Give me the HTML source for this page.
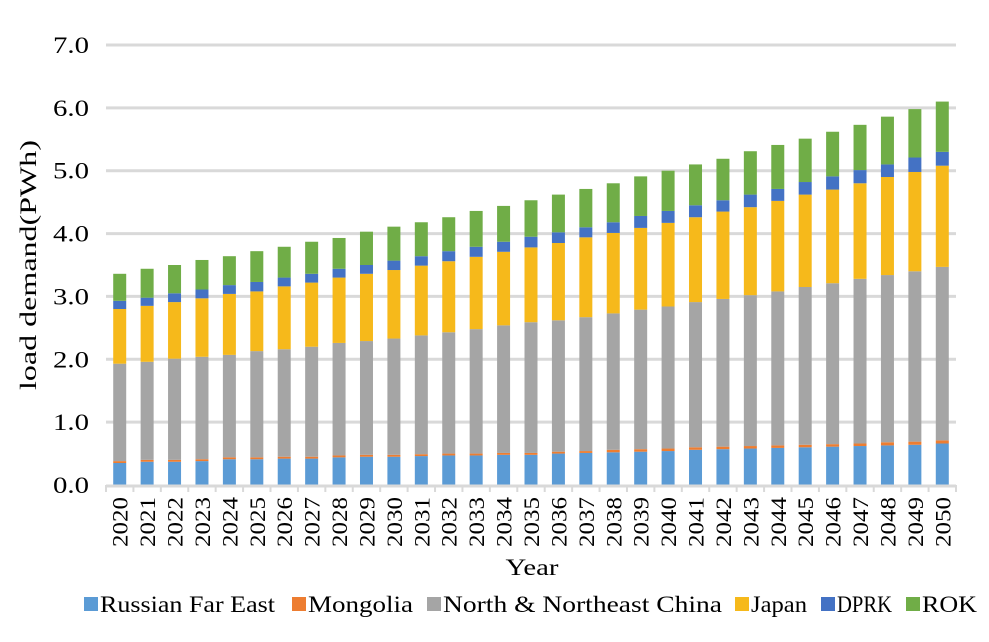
<!DOCTYPE html>
<html><head><meta charset="utf-8"><style>
body{margin:0;background:#fff}
svg text{font-family:"Liberation Serif",serif;fill:#000}
</style></head><body>
<svg id="chart" width="989" height="637" xmlns="http://www.w3.org/2000/svg">
<g id="grid"></g>
<g id="bars"></g>
<g id="axes"></g>
<text x="36" y="265" font-size="23" text-anchor="middle" textLength="250" lengthAdjust="spacingAndGlyphs" transform="rotate(-90 36 265)">load demand(PWh)</text>
<text x="532" y="575" font-size="23" text-anchor="middle" textLength="53" lengthAdjust="spacingAndGlyphs">Year</text>
<g id="legend"></g>
</svg>
<script>
const years=[];for(let y=2020;y<=2050;y++)years.push(String(y));
const russia=[.35,.37,.37,.38,.41,.41,.42,.42,.44,.45,.45,.46,.47,.47,.48,.48,.50,.51,.52,.53,.54,.56,.57,.58,.59,.60,.61,.62,.63,.64,.66];
const mongolia=[.03,.03,.03,.03,.03,.03,.03,.03,.03,.03,.03,.03,.03,.03,.03,.03,.03,.03,.04,.04,.04,.04,.04,.04,.04,.04,.04,.04,.05,.05,.05];
const china=[1.55,1.56,1.61,1.63,1.63,1.69,1.71,1.75,1.79,1.81,1.85,1.89,1.93,1.98,2.03,2.08,2.09,2.13,2.17,2.22,2.26,2.31,2.35,2.40,2.45,2.51,2.56,2.62,2.66,2.71,2.76];
const japan=[.87,.89,.90,.93,.97,.95,1.00,1.02,1.04,1.07,1.09,1.11,1.13,1.15,1.17,1.19,1.23,1.27,1.28,1.30,1.33,1.35,1.39,1.40,1.44,1.47,1.49,1.52,1.56,1.58,1.61];
const dprk=[.13,.13,.14,.14,.14,.15,.14,.14,.14,.14,.15,.15,.16,.16,.16,.17,.17,.16,.17,.19,.19,.19,.18,.20,.19,.20,.21,.21,.20,.23,.22];
const rok=[.43,.46,.45,.47,.46,.49,.49,.51,.49,.53,.54,.54,.54,.57,.57,.58,.60,.61,.62,.63,.64,.65,.66,.69,.70,.69,.71,.72,.76,.77,.80];
const yTicks=["0.0","1.0","2.0","3.0","4.0","5.0","6.0","7.0"];
const seriesNames=["Russian Far East","Mongolia","North & Northeast China","Japan","DPRK","ROK"];
const seriesData=[russia,mongolia,china,japan,dprk,rok];
const colors=["#5b9bd5","#ed7d31","#a5a5a5","#f6b91b","#4472c4","#70ad47"];
const NS="http://www.w3.org/2000/svg";
const L=106,R=956,Y0=485,Y7=45;
const yS=v=>Y0-(v/7)*(Y0-Y7);
const step=(R-L)/years.length;
const xC=i=>L+step*(i+0.5);
function mk(t,a,p){const e=document.createElementNS(NS,t);for(const k in a)e.setAttribute(k,a[k]);p.appendChild(e);return e;}
const grid=document.getElementById('grid'),bars=document.getElementById('bars'),axes=document.getElementById('axes'),leg=document.getElementById('legend');
yTicks.forEach((t,i)=>{const v=parseFloat(t);
 if(i>0){const g=mk('line',{x1:L,x2:R,y1:yS(v),y2:yS(v),stroke:'#d9d9d9','stroke-width':3},grid);
 
 }
 const tx=mk('text',{x:89,y:yS(v)+8,'font-size':23,'text-anchor':'end',textLength:36,lengthAdjust:'spacingAndGlyphs'},axes);tx.textContent=t;
 
 
});
years.forEach((yr,i)=>{let acc=0;
 seriesData.forEach((s,k)=>{const v=s[i];
  const r=mk('rect',{x:xC(i)-6.5,width:13,y:yS(acc+v),height:yS(acc)-yS(acc+v),fill:colors[k]},bars);
  
  
  acc+=v;});
 const tx=mk('text',{x:0,y:0,'font-size':22,'text-anchor':'end',textLength:50,lengthAdjust:'spacingAndGlyphs',transform:`translate(${xC(i)+8},497) rotate(-90)`},axes);tx.textContent=yr;
 
 
});
const ax=mk('line',{x1:L,x2:R,y1:Y0+1,y2:Y0+1,stroke:'#d9d9d9','stroke-width':3},axes);


for(let i=0;i<=years.length;i++){const tk=mk('line',{x1:L+step*i,x2:L+step*i,y1:Y0,y2:Y0+7,stroke:'#d9d9d9','stroke-width':2},axes);
 
 }
const legX=[84,292,427,735,821,906];
const legW=[175,105,279,56,55,55];
seriesNames.forEach((n,k)=>{
 const g=mk('g',{},leg);
 
 
 mk('rect',{x:legX[k],y:597,width:14,height:14,fill:colors[k]},g);
 const t=mk('text',{x:legX[k]+16,y:612,'font-size':23,textLength:legW[k],lengthAdjust:'spacingAndGlyphs'},g);t.textContent=n;
});
</script>
</body></html>
